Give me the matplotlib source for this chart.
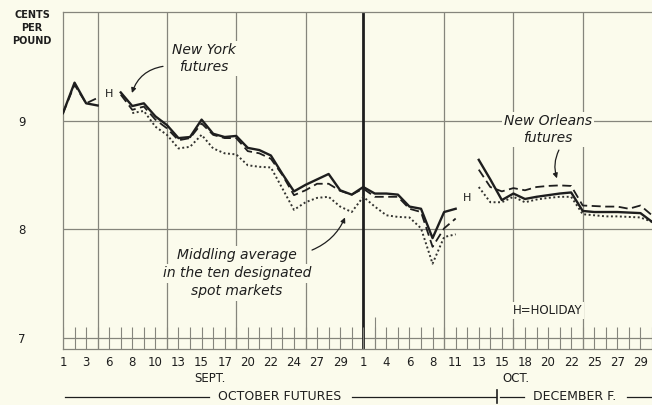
import numpy as np
import matplotlib.pyplot as plt
from matplotlib.transforms import blended_transform_factory

# trading days (Saturdays included), Sept 6 and Oct 12 are holidays
sept_days = [1, 2, 3, 4, 6, 7, 8, 9, 10, 11, 13, 14, 15, 16, 17, 18, 20, 21, 22, 23, 24, 25, 27, 28, 29, 30]
oct_days = [1, 2, 4, 5, 6, 7, 8, 9, 11, 12, 13, 14, 15, 16, 18, 19, 20, 21, 22, 23, 25, 26, 27, 28, 29, 30]
sept_labels = [1, 3, 6, 8, 10, 13, 15, 17, 20, 22, 24, 27, 29]
oct_labels = [1, 4, 6, 8, 11, 13, 15, 18, 20, 22, 25, 27, 29]
week_lines_sept = [4, 11, 18, 25]
week_lines_oct = [9, 16, 23]

# cents per pound
new_york = [9.07, 9.35, 9.16, 9.14, None, 9.26, 9.135, 9.16, 9.04, 8.96, 8.84, 8.85, 9.01, 8.88, 8.85, 8.86,
            8.75, 8.73, 8.68, 8.51, 8.35, 8.41, 8.46, 8.51, 8.36, 8.32,
            8.39, 8.33, 8.33, 8.32, 8.21, 8.19, 7.92, 8.16, 8.19, None, 8.64, 8.46, 8.27, 8.33, 8.28, 8.30,
            8.315, 8.33, 8.34, 8.17, 8.16, 8.16, 8.16, 8.155, 8.15, 8.07]
new_orleans = [9.07, 9.33, 9.16, 9.21, None, 9.24, 9.10, 9.13, 9.01, 8.93, 8.82, 8.84, 8.975, 8.87, 8.84, 8.84,
               8.72, 8.70, 8.65, 8.50, 8.315, 8.36, 8.42, 8.42, 8.355, 8.32,
               8.375, 8.30, 8.30, 8.30, 8.19, 8.16, 7.84, 8.01, 8.10, None, 8.55, 8.39, 8.35, 8.38, 8.36, 8.39,
               8.40, 8.405, 8.40, 8.22, 8.215, 8.21, 8.21, 8.19, 8.22, 8.13]
spot = [None, None, None, None, None, None, 9.07, 9.09, 8.945, 8.87, 8.745, 8.76, 8.87, 8.745, 8.70, 8.69,
        8.59, 8.576, 8.57, 8.376, 8.18, 8.25, 8.29, 8.30, 8.21, 8.16,
        8.30, 8.21, 8.13, 8.115, 8.11, 8.01, 7.685, 7.93, 7.955, None, 8.39, 8.25, 8.25, 8.30, 8.25, 8.275,
        8.29, 8.30, 8.30, 8.14, 8.13, 8.12, 8.12, 8.115, 8.11, 8.07]

BG = '#fbfbec'
INK = '#1e1e1e'
GRID = '#85857c'

dates = [('S', d) for d in sept_days] + [('O', d) for d in oct_days]
x = np.arange(len(dates))
oct_start = dates.index(('O', 1))

fig = plt.figure(figsize=(6.52, 4.05), dpi=100, facecolor=BG)
ax = fig.add_axes([63 / 652, 56 / 405, 589 / 652, 337 / 405], facecolor=BG)
ax.set_xlim(0, len(dates) - 1)
ax.set_ylim(6.9, 10.0)

ax.spines['right'].set_visible(False)
for s in ['left', 'top', 'bottom']:
    ax.spines[s].set_color(GRID)
    ax.spines[s].set_linewidth(0.9)

# grid
for v in [7, 8, 9]:
    ax.axhline(v, color=GRID, lw=0.9, zorder=1)
grid_x = [dates.index(('S', d)) for d in week_lines_sept] + [dates.index(('O', d)) for d in week_lines_oct]
ax.vlines(grid_x, 6.9, 10.0, color=GRID, lw=0.9, zorder=1)
ax.axvline(oct_start, color=INK, lw=2, zorder=1)

# day ticks on the strip
ax.vlines(x, 6.9, 7.1, color=GRID, lw=0.8, zorder=1)
ax.vlines([oct_start + 1], 6.9, 7.19, color=GRID, lw=0.8, zorder=1)

# series
ax.plot(x, np.array(new_york, dtype=float), color=INK, lw=1.7, zorder=4)
ax.plot(x, np.array(new_orleans, dtype=float), color=INK, lw=1.3, dashes=(5, 2.5), zorder=3)
ax.plot(x, np.array(spot, dtype=float), color='#333330', lw=1.4, dashes=(1, 1.3), zorder=3)

# axes labels
tick_pos = [dates.index(('S', d)) for d in sept_labels] + [dates.index(('O', d)) for d in oct_labels]
tick_txt = [str(d) for d in sept_labels] + [str(d) for d in oct_labels]
ax.set_xticks(tick_pos, tick_txt)
ax.set_yticks([7, 8, 9], ['7', '8', '9'])
ax.tick_params(axis='x', length=0, pad=5, labelsize=8.5, labelcolor=INK)
ax.tick_params(axis='y', length=0, pad=27, labelsize=8.5, labelcolor=INK)

fig.text(32 / 652, 1 - 28 / 405, 'CENTS\nPER\nPOUND', ha='center', va='center', fontsize=7,
         linespacing=1.4, color=INK, fontweight='semibold')

lab = dict(color=INK, fontsize=10, style='italic', ha='center', va='center')
box = dict(boxstyle='square,pad=0.15', fc=BG, ec='none')

ax.text(12.2, 9.57, 'New York\nfutures', linespacing=1.3, bbox=box, zorder=5, **lab)
ax.annotate('', xy=(5.97, 9.255), xytext=(8.66, 9.50),
            arrowprops=dict(arrowstyle='-|>', color=INK, lw=0.9, mutation_scale=7,
                            connectionstyle='arc3,rad=0.3', shrinkA=0, shrinkB=0), zorder=5)

ax.text(42.0, 8.92, 'New Orleans\nfutures', linespacing=1.3, bbox=box, zorder=5, **lab)
ax.annotate('', xy=(42.77, 8.47), xytext=(42.94, 8.73),
            arrowprops=dict(arrowstyle='-|>', color=INK, lw=0.9, mutation_scale=7,
                            connectionstyle='arc3,rad=0.2', shrinkA=0, shrinkB=0), zorder=5)

for txt, yv in zip(['Middling average', 'in the ten designated', 'spot markets'], [7.761, 7.595, 7.429]):
    ax.text(15.06, yv, txt, bbox=box, zorder=5, **lab)
ax.annotate('', xy=(24.42, 8.11), xytext=(21.56, 7.81),
            arrowprops=dict(arrowstyle='-|>', color=INK, lw=0.9, mutation_scale=7,
                            connectionstyle='arc3,rad=0.2', shrinkA=0, shrinkB=0), zorder=5)

ax.text(dates.index(('S', 6)), 9.246, 'H', fontsize=8, color=INK, ha='center', va='center')
ax.text(dates.index(('O', 12)), 8.29, 'H', fontsize=8, color=INK, ha='center', va='center')
ax.text(41.95, 7.256, 'H=HOLIDAY', fontsize=8.5, color=INK, ha='center', va='center', bbox=box, zorder=5)

# month names and futures contracts below the axis
tr = blended_transform_factory(ax.transData, fig.transFigure)
ax.text(12.68, 1 - 378 / 405, 'SEPT.', transform=tr, fontsize=8.5, color=INK, ha='center', va='center')
ax.text(39.2, 1 - 378 / 405, 'OCT.', transform=tr, fontsize=8.5, color=INK, ha='center', va='center')
yb = 1 - 397 / 405
ax.text(18.8, yb, 'OCTOBER FUTURES', transform=tr, fontsize=9, color=INK, ha='center', va='center')
ax.text(44.3, yb, 'DECEMBER F.', transform=tr, fontsize=9, color=INK, ha='center', va='center')
for a, b in [(0.17, 12.6), (25.0, 37.5), (37.8, 39.9), (48.8, 51.0)]:
    ax.plot([a, b], [yb, yb], color=INK, lw=0.9, transform=tr, clip_on=False)
ax.plot([37.6, 37.6], [1 - 390 / 405, 1 - 403 / 405], color=INK, lw=1.2, transform=tr, clip_on=False)

fig.savefig('out.png', dpi=100, facecolor=BG)
